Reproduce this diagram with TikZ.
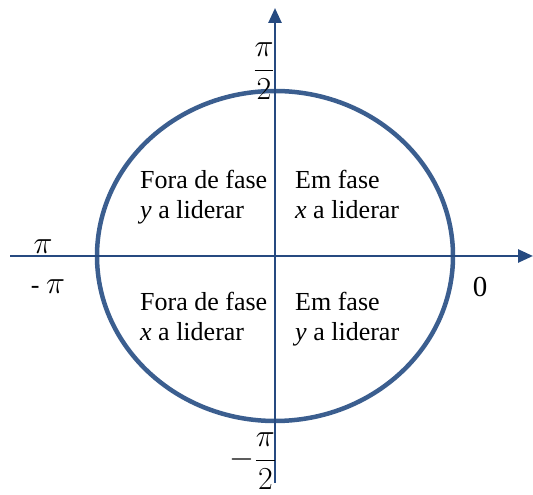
\RequirePackage{fix-cm}
\documentclass[tikz,border=0pt]{standalone}
\usepackage{fontspec}
\setmainfont{Liberation Serif}
\usepackage{tikz}
\usetikzlibrary{arrows.meta,positioning}

\definecolor{ringblue}{RGB}{59,94,143}
\definecolor{axisblue}{RGB}{38,74,128}

\begin{document}
\begin{tikzpicture}[
    x=1pt, y=1pt,
    >={Triangle[length=15pt,width=13pt]},
    axis/.style={draw=axisblue, line width=2.6pt},
    ring/.style={draw=ringblue, line width=4.5pt},
    quad/.style={font=\fontsize{26}{30}\selectfont, align=left, inner sep=0pt, anchor=north west},
    ang/.style={font=\fontsize{32}{40}\selectfont, inner sep=0pt},
  ]
    \useasboundingbox (0,0) rectangle (533,495);

    % --- axes ---
    \coordinate (O) at (275,239);
    \coordinate (xl) at (10,239);
    \coordinate (xr) at (533,239);
    \coordinate (yb) at (275,12);
    \coordinate (yt) at (275,487);

    % --- phase circle ---
    \draw[ring] (O) ellipse [x radius=178, y radius=165];

    \draw[axis, ->] (xl) -- (xr);
    \draw[axis, ->] (yb) -- (yt);

    % --- quadrant labels ---
    \node[quad] (q2) at (140,325) {Fora de fase\\\textit{y} a liderar};
    \node[quad] (q1) at (295,325) {Em fase\\\textit{x} a liderar};
    \node[quad] (q3) at (140,203) {Fora de fase\\\textit{x} a liderar};
    \node[quad] (q4) at (295,203) {Em fase\\\textit{y} a liderar};

    % --- angle labels ---
    \node[ang] (pihalf) at (264,424) {$\displaystyle\frac{\pi}{2}$};
    \node[ang] (mpihalf) at (253,34) {$\displaystyle-\frac{\pi}{2}$};
    \node[ang] (pi) at (43,248) {$\pi$};
    \node[ang, font=\fontsize{26}{30}\selectfont] (mpi) at (48,208) {- \fontsize{32}{40}\selectfont$\pi$};
    \node[ang, font=\fontsize{29}{34}\selectfont] (zero) at (480,208) {0};
\end{tikzpicture}
\end{document}
